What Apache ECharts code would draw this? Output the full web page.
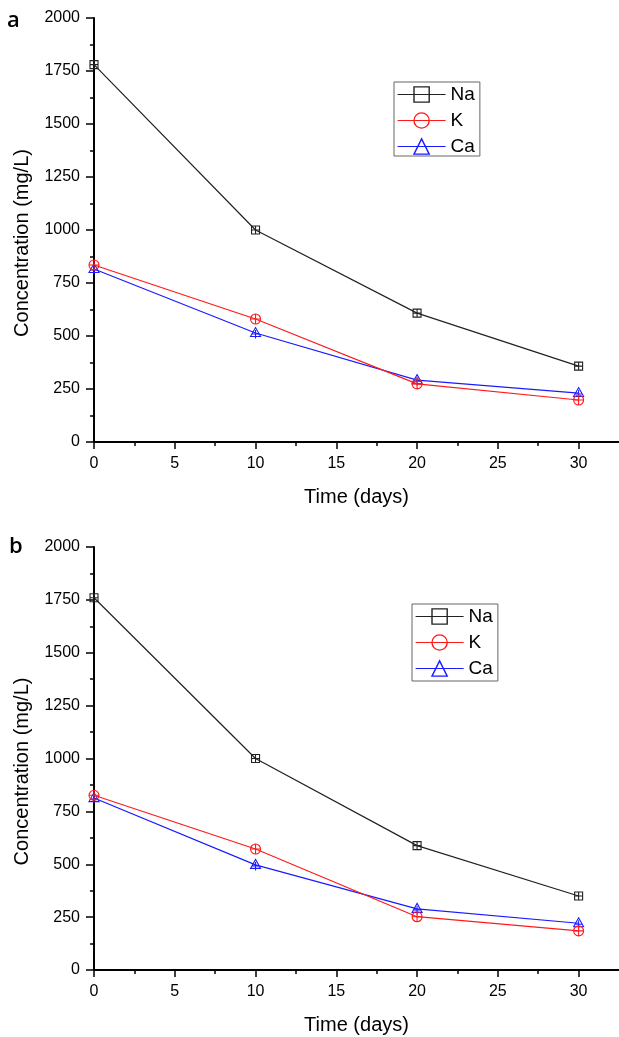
<!DOCTYPE html>
<html>
<head>
<meta charset="utf-8">
<script src="https://cdn.jsdelivr.net/npm/echarts@6/dist/echarts.min.js"></script>
<style>
  html, body { margin: 0; padding: 0; background: #fff; }
  #chart { width: 619px; height: 1037px; }
</style>
</head>
<body>
<div id="chart"></div>
<script>
// ---- data ----
const days = [0, 10, 20, 30];
const naA = [1780, 1000, 608, 358];
const kA  = [835, 580, 274, 198];
const caA = [816, 514, 292, 231];
const naB = [1760, 1000, 588, 350];
const kB  = [826, 572, 252, 185];
const caB = [813, 497, 289, 221];
const seriesNames = ['Na', 'K', 'Ca'];
const panelLabels = ['a', 'b'];
const xTicks = [0, 5, 10, 15, 20, 25, 30];
const yTicks = [0, 250, 500, 750, 1000, 1250, 1500, 1750, 2000];

// ---- styles ----
const FONT = "'Liberation Sans', Arial, sans-serif";
const colors = { Na: '#222222', K: '#ff1a1a', Ca: '#1a1aff' };
const markSymbols = {
  Na: 'path://M0,0L10,0L10,10L0,10Z M5,0L5,10 M0,5L10,5',
  K:  'path://M10,5A5,5 0 1 1 0,5A5,5 0 1 1 10,5Z M5,0L5,10 M0,5L10,5',
  Ca: 'path://M5,0L10,9L0,9Z M5,2.5L5,11 M1.8,6.5L8.2,6.5'
};
const markSizes = { Na: [8, 8], K: [10, 10], Ca: [10, 11] };
const legendSymbols = {
  Na: 'path://M0,0L10,0L10,10L0,10Z',
  K:  'path://M10,5A5,5 0 1 1 0,5A5,5 0 1 1 10,5Z',
  Ca: 'path://M5,0L10,9L0,9Z'
};

const grids = [
  { left: 94, top: 18, width: 526, height: 424 },
  { left: 94, top: 547, width: 526, height: 423 }
];

function plain(v) { return String(v); }

function xAxisFor(i) {
  return {
    gridIndex: i, type: 'value', min: 0, max: 32.5,
    name: 'Time (days)', nameLocation: 'middle', nameGap: 45,
    nameTextStyle: { fontFamily: FONT, fontSize: 20, color: '#000' },
    axisLine: { lineStyle: { color: '#000', width: 2 } },
    axisTick: { customValues: xTicks, length: 7, lineStyle: { color: '#000', width: 1.5 } },
    minorTick: { show: true, splitNumber: 2, length: 4, lineStyle: { color: '#000', width: 1.5 } },
    axisLabel: { customValues: xTicks, formatter: plain, fontFamily: FONT, fontSize: 16, color: '#000', margin: 14 },
    splitLine: { show: false }
  };
}
function yAxisFor(i) {
  return {
    gridIndex: i, type: 'value', min: 0, max: 2000, interval: 250,
    name: 'Concentration (mg/L)', nameLocation: 'middle', nameGap: 62,
    nameTextStyle: { fontFamily: FONT, fontSize: 20, color: '#000', padding: [0, 26, 0, 0] },
    axisLine: { show: true, lineStyle: { color: '#000', width: 2 } },
    axisTick: { show: true, customValues: yTicks, length: 8, lineStyle: { color: '#000', width: 1.5 } },
    minorTick: { show: true, splitNumber: 2, length: 4, lineStyle: { color: '#000', width: 1.5 } },
    axisLabel: { customValues: yTicks, formatter: plain, fontFamily: FONT, fontSize: 16, color: '#000', margin: 14 },
    splitLine: { show: false }
  };
}

const series = [];
// legend-only entries (no data) so the legend shows plain hollow symbols
seriesNames.forEach(function (n) {
  series.push({
    name: n, type: 'line', xAxisIndex: 0, yAxisIndex: 0, data: [],
    symbol: legendSymbols[n], symbolSize: 12,
    lineStyle: { color: colors[n], width: 1.2 },
    itemStyle: { color: 'transparent', borderColor: colors[n], borderWidth: 1.3 }
  });
});
function addPanel(idx, vals) {
  seriesNames.forEach(function (n, j) {
    series.push({
      name: n, type: 'line', xAxisIndex: idx, yAxisIndex: idx,
      data: days.map(function (d, k) { return [d, vals[j][k]]; }),
      symbol: markSymbols[n], symbolSize: markSizes[n],
      lineStyle: { color: colors[n], width: 1.2 },
      itemStyle: { color: 'transparent', borderColor: colors[n], borderWidth: 1.1 },
      emphasis: { disabled: true },
      z: 3 - j
    });
  });
}
addPanel(0, [naA, kA, caA]);
addPanel(1, [naB, kB, caB]);

function legendFor(left, top, padding) {
  return {
    data: seriesNames, orient: 'vertical', left: left, top: top,
    itemWidth: 48, itemHeight: 19, itemGap: 7, padding: padding,
    borderColor: '#666', borderWidth: 1,
    itemStyle: { borderWidth: 1.4 },
    lineStyle: { width: 1.2 },
    textStyle: { fontFamily: FONT, fontSize: 19, color: '#000' },
    selectedMode: false
  };
}

const option = {
  animation: false,
  backgroundColor: '#fff',
  title: [
    { text: panelLabels[0], left: 7, top: 10, padding: 0,
      textStyle: { fontFamily: "'Open Sans', sans-serif", fontSize: 22, fontWeight: 600, color: '#000' } },
    { text: panelLabels[1], left: 9, top: 536, padding: 0,
      textStyle: { fontFamily: "'Open Sans', sans-serif", fontSize: 22, fontWeight: 600, color: '#000' } }
  ],
  legend: [
    legendFor(394, 82, [3, 5, 0, 3]),
    legendFor(412, 604, [3, 5, 3, 3])
  ],
  grid: grids,
  xAxis: [xAxisFor(0), xAxisFor(1)],
  yAxis: [yAxisFor(0), yAxisFor(1)],
  series: series
};

const chart = echarts.init(document.getElementById('chart'));
chart.setOption(option);
</script>
</body>
</html>
